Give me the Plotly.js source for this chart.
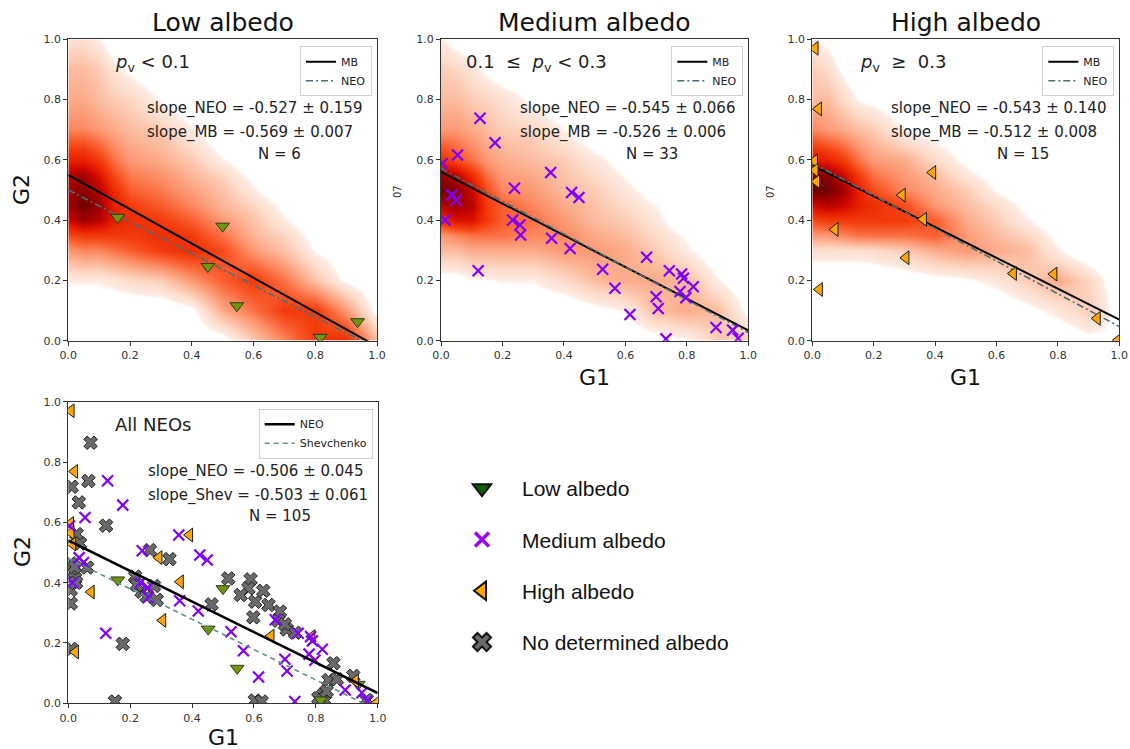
<!DOCTYPE html>
<html>
<head>
<meta charset="utf-8">
<script src="https://cdn.plot.ly/plotly-3.0.1.min.js"></script>
<style>
  html, body { margin: 0; padding: 0; background: #fff; }
  #chart { width: 1130px; height: 749px; }
</style>
</head>
<body>
<div id="chart"></div>
<script>
// ---------- phase-function parameters of NEOs, grouped by albedo ----------
const LOW_G1 = [0.16, 0.50, 0.452, 0.546, 0.816, 0.937];
const LOW_G2 = [0.409, 0.38, 0.246, 0.116, 0.011, 0.063];

const MED_G1 = [0.127, 0.176, 0.054, 0.004, 0.035, 0.049, 0.013, 0.121, 0.239, 0.233, 0.257,
                0.259, 0.357, 0.360, 0.425, 0.449, 0.420, 0.526, 0.566, 0.615, 0.669, 0.700,
                0.707, 0.732, 0.743, 0.783, 0.789, 0.778, 0.797, 0.821, 0.895, 0.949, 0.967];
const MED_G2 = [0.738, 0.657, 0.616, 0.588, 0.483, 0.467, 0.400, 0.232, 0.506, 0.400, 0.384,
                0.351, 0.558, 0.340, 0.492, 0.475, 0.306, 0.237, 0.174, 0.087, 0.277, 0.146,
                0.107, 0.006, 0.232, 0.221, 0.207, 0.163, 0.143, 0.179, 0.044, 0.035, 0.008];

const HIGH_G1 = [0.009, 0.020, 0.007, 0.009, 0.014, 0.074, 0.023, 0.293, 0.392, 0.362, 0.305,
                 0.655, 0.787, 0.928, 0.997];
const HIGH_G2 = [0.970, 0.769, 0.596, 0.566, 0.528, 0.369, 0.170, 0.483, 0.558, 0.403, 0.275,
                 0.223, 0.221, 0.074, 0.002];

const NONE_G1 = [0.072, 0.065, 0.011, 0.034, 0.122, 0.027, 0.008, 0.016, 0.022, 0.008, 0.008,
                 0.061, 0.176, 0.151, 0.264, 0.327, 0.216, 0.237, 0.253, 0.277, 0.463, 0.517,
                 0.589, 0.582, 0.557, 0.604, 0.630, 0.647, 0.598, 0.684, 0.706, 0.733, 0.679,
                 0.857, 0.841, 0.824, 0.830, 0.808, 0.921, 0.603, 0.625, 0.964, 0.038, 0.286,
                 0.221, 0.020, 0.868, 0.700, 0.010, 0.025, 0.835];
const NONE_G2 = [0.864, 0.737, 0.718, 0.666, 0.589, 0.561, 0.464, 0.436, 0.414, 0.376, 0.331,
                 0.450, 0.197, 0.006, 0.508, 0.478, 0.420, 0.370, 0.354, 0.389, 0.328, 0.414,
                 0.411, 0.381, 0.359, 0.337, 0.373, 0.326, 0.285, 0.304, 0.245, 0.234, 0.274,
                 0.133, 0.077, 0.028, 0.009, 0.017, 0.091, 0.009, 0.006, 0.011, 0.530, 0.343,
                 0.392, 0.452, 0.080, 0.262, 0.180, 0.400, 0.040];

// ---------- linear fits G2 = a + b*G1 ----------
const PANEL_NAMES   = ['Low albedo', 'Medium albedo', 'High albedo'];
const MB_INTERCEPT  = [0.550, 0.560, 0.582];
const MB_SLOPE      = [-0.569, -0.526, -0.512];
const MB_SLOPE_ERR  = [0.007, 0.006, 0.008];
const NEO_INTERCEPT = [0.500, 0.572, 0.590];
const NEO_SLOPE     = [-0.527, -0.545, -0.543];
const NEO_SLOPE_ERR = [0.159, 0.066, 0.140];
const NEO_COUNT     = [6, 33, 15];
const ALBEDO_RANGE  = ['<i>p</i><sub>v</sub> < 0.1',
                       '0.1  \u2264  <i>p</i><sub>v</sub> < 0.3',
                       '<i>p</i><sub>v</sub>  \u2265  0.3'];

const ALL_INTERCEPT  = 0.540;
const ALL_SLOPE      = -0.506;
const ALL_SLOPE_ERR  = 0.045;
const SHEV_INTERCEPT = 0.480;
const SHEV_SLOPE     = -0.503;
const SHEV_SLOPE_ERR = 0.061;
const ALL_COUNT      = 105;

// ---------- main-belt density, relative to the lowest shaded level (negative = unshaded) ----------
const DENS_G1 = [0, 0.05, 0.1, 0.15, 0.2, 0.3, 0.4, 0.5, 0.6, 0.7, 0.8, 0.9, 1.0];
const DENS_G2 = [0, 0.1, 0.2, 0.3, 0.35, 0.4, 0.45, 0.5, 0.55, 0.6, 0.7, 0.8, 0.9, 1.0];

const DENS_LOW = [
  [-1,  -1,  -1,  -1,  -1,  -1,  -1,  -0.5, 1.5, 3.5, 5.5, 6,   2  ],
  [-1,  -1,  -1,  -1,  -1,  -1,  -0.3, 2.5, 4,   5.5, 5.5, 3,  -0.5],
  [0.3, 0.3, 0.3, 0.6, 1,   1.5, 3,   4.5, 5.5, 4,   1.8, -0.2, -1 ],
  [3,   3.5, 3.5, 4,   4.5, 5.5, 6,   5,   3,   1.8, 0,   -1,  -1 ],
  [5,   5.5, 5.5, 5.5, 5.5, 6,   5.5, 4,   2.2, 1.2, -0.5, -1, -1 ],
  [7.5, 8.5, 8,   6.5, 6,   5.5, 4.5, 3,   1.8, 0.3, -1,  -1,  -1 ],
  [8.5, 9.5, 8.5, 6.5, 5.5, 4.5, 3.5, 2.2, 1.2, -0.3, -1, -1,  -1 ],
  [8.5, 9,   8,   6,   4.5, 3.8, 2.8, 1.8, 0.3, -1,  -1,  -1,  -1 ],
  [8,   8.5, 7,   5,   3.8, 3.2, 2.2, 1.2, -0.3, -1, -1,  -1,  -1 ],
  [6.5, 6.5, 5.5, 4,   3,   2.5, 1.6, 0.2, -1,  -1,  -1,  -1,  -1 ],
  [3.5, 3.5, 3,   2.5, 2,   1.5, 0.2, -1,  -1,  -1,  -1,  -1,  -1 ],
  [2.5, 2.5, 2,   1.5, 1.2, -0.1, -1, -1,  -1,  -1,  -1,  -1,  -1 ],
  [2,   2,   1.5, 0.5, -0.2, -1, -1,  -1,  -1,  -1,  -1,  -1,  -1 ],
  [0.8, 0.8, 0.2, -1,  -1,  -1,  -1,  -1,  -1,  -1,  -1,  -1,  -1 ]
];

const DENS_MED = [
  [-1,  -1,  -1,  -1,  -1,  -1,  -1,  -1,  -1,  -0.5, 0,   1.5, 1.5],
  [-1,  -1,  -1,  -1,  -1,  -1,  -1,  -0.3, 0.2, 2,   2.5, 2,  -0.3],
  [-0.5, -0.5, 0, 0,   0.2, 0.2, 1,   2,   2.5, 2.5, 2,   0.2, -1 ],
  [2,   2,   2.5, 2.5, 2.5, 2.5, 3,   3,   2.5, 1.5, 0.3, -1,  -1 ],
  [3,   3.5, 4,   4,   4,   3.5, 3.5, 2.5, 2,   1,   -0.1, -1, -1 ],
  [6,   7,   7,   5.5, 4.5, 4,   3,   2,   1.5, 0.5, -1,  -1,  -1 ],
  [8,   8.5, 8,   5.5, 4.5, 3.5, 2.5, 1.8, 1,   0.1, -1,  -1,  -1 ],
  [9.5, 9,   7.5, 5,   3.5, 3,   2,   1.5, 0.5, -0.5, -1, -1,  -1 ],
  [8.5, 8,   6,   4,   3,   2.5, 1.8, 1,   0,   -1,  -1,  -1,  -1 ],
  [6,   5,   4,   3,   2.5, 2,   1.5, 0.5, -0.5, -1, -1,  -1,  -1 ],
  [3,   3,   2.5, 2,   1.5, 1.2, 0.1, -1,  -1,  -1,  -1,  -1,  -1 ],
  [2,   2,   1.5, 1.2, 0.8, -0.2, -1, -1,  -1,  -1,  -1,  -1,  -1 ],
  [1.5, 1.2, 0.6, -0.2, -0.8, -1, -1, -1,  -1,  -1,  -1,  -1,  -1 ],
  [0.3, -0.5, -1, -1,  -1,  -1,  -1,  -1,  -1,  -1,  -1,  -1,  -1 ]
];

const DENS_HIGH = [
  [-1,  -1,  -1,  -1,  -1,  -1,  -1,  -1,  -1,  -1,  -1,  -0.3, 0  ],
  [-1,  -1,  -1,  -1,  -1,  -1,  -1,  -1,  -1,  -0.3, 0.5, 1.5, -0.5],
  [-1,  -1,  -1,  -1,  -1,  -0.7, -0.4, -0.1, 0.5, 1.5, 2.5, 1.2, -1 ],
  [0.8, 0.8, 0.8, 0.8, 1,   1.5, 2.5, 3,   2.5, 2,   0.2, -1,  -1 ],
  [3,   3,   3.5, 4,   4,   4,   4.5, 3,   2,   1.2, -0.3, -1, -1 ],
  [5,   5.5, 5.5, 5.5, 5.5, 5.5, 4.5, 2.5, 1.5, 0.2, -1,  -1,  -1 ],
  [7.5, 8,   7.5, 6.5, 6,   5,   3,   2,   1,   -0.3, -1, -1,  -1 ],
  [9.5, 9.5, 8.5, 6.5, 5,   3.5, 2.5, 1.5, 0,   -1,  -1,  -1,  -1 ],
  [9,   9,   7.5, 5.5, 4,   3,   2,   0.5, -0.5, -1, -1,  -1,  -1 ],
  [7,   6.5, 5.5, 4,   3,   2.5, 1,   -0.2, -1, -1,  -1,  -1,  -1 ],
  [3.5, 3,   2.5, 2,   1.5, 0,   -0.5, -1, -1,  -1,  -1,  -1,  -1 ],
  [2,   2,   1,   0,   -0.3, -1, -1,  -1,  -1,  -1,  -1,  -1,  -1 ],
  [1.5, 1,   -0.2, -1, -1,  -1,  -1,  -1,  -1,  -1,  -1,  -1,  -1 ],
  [0.3, -0.3, -1, -1,  -1,  -1,  -1,  -1,  -1,  -1,  -1,  -1,  -1 ]
];

// shading levels -> colours (everything at or below 0 stays white)
const DENS_MIN = -1, DENS_MAX = 10;
const DENS_LEVELS = [-1, 0, 0.25, 1, 2, 3.3, 4.3, 5.3, 6.5, 7.5, 8.7, 10];
const DENS_COLORS = ['#ffffff', '#ffffff', '#fdebe2', '#fddccc', '#fcbca0', '#fb8f68',
                     '#fa6538', '#f4400f', '#e82000', '#cc0800', '#980000', '#560000'];
const DENS_SCALE = DENS_LEVELS.map((v, k) => [(v - DENS_MIN) / (DENS_MAX - DENS_MIN), DENS_COLORS[k]]);

// ---------- styling ----------
const FONT = 'DejaVu Sans, Verdana, sans-serif';
const W = 1130, H = 749;
const px = v => v / W;           // horizontal pixel -> paper
const py = v => 1 - v / H;       // vertical pixel (from top) -> paper

const PANEL_X = [[68.3, 377.0], [441.0, 748.3], [812.3, 1119.3], [68.3, 377.7]];
const PANEL_Y = [[39.3, 340.7], [39.3, 340.7], [39.3, 340.7], [401.7, 703.3]];

const LOW_STYLE  = {symbol: 'triangle-down', size: 12, color: '#6f960e', line: {color: '#2e3b12', width: 1}};
const MED_STYLE  = {symbol: 'x-thin', size: 11, color: '#7f00ff', line: {color: '#7f00ff', width: 2.2}};
const HIGH_STYLE = {symbol: 'triangle-left', size: 12, color: '#ffa500', line: {color: '#1a1a1a', width: 1}};
const NONE_STYLE = {symbol: 'x', size: 12, color: '#6a6a6a', line: {color: '#222', width: 1}};

const NEO_LINE  = {color: '#4a6f73', width: 1.6, dash: '7px,3px,2px,3px'};
const MB_LINE   = {color: '#000', width: 2};
const SHEV_LINE = {color: '#5f8f8a', width: 1.6, dash: '5px,4px'};

const LINE_X = [0, 1];
const lineY = (a, b) => LINE_X.map(x => a + b * x);

const traces = [];
const annotations = [];
const layout = {
  width: W, height: H,
  margin: {l: 0, r: 0, t: 0, b: 0},
  paper_bgcolor: '#fff', plot_bgcolor: '#fff',
  font: {family: FONT, color: '#222'},
  showlegend: true,
  annotations: annotations
};

function axisStyle(domain, anchor) {
  return {
    domain: domain, anchor: anchor, range: [0, 1],
    tickvals: [0, 0.2, 0.4, 0.6, 0.8, 1.0], tickformat: '.1f',
    ticks: 'outside', ticklen: 4, tickwidth: 1, tickcolor: '#333',
    showline: true, mirror: true, linecolor: '#333', linewidth: 1,
    showgrid: false, zeroline: false, fixedrange: true,
    tickfont: {family: FONT, size: 11, color: '#333'}
  };
}

function panelLegend(i) {
  return {
    x: px(PANEL_X[i][1] - 5), xanchor: 'right',
    y: py(PANEL_Y[i][0] + 7), yanchor: 'top',
    bgcolor: 'rgba(255,255,255,0.85)', bordercolor: '#d0d0d0', borderwidth: 1,
    font: {family: FONT, size: 11, color: '#222'},
    itemwidth: 30, tracegroupgap: 0
  };
}

const STAT_FONT = {family: FONT, size: 15, color: '#222'};
function statText(xa, ya, lines, nText) {
  annotations.push({xref: xa, yref: ya, x: 0.25, y: 0.77, xanchor: 'left', yanchor: 'middle',
    text: lines[0], showarrow: false, font: STAT_FONT});
  annotations.push({xref: xa, yref: ya, x: 0.25, y: 0.69, xanchor: 'left', yanchor: 'middle',
    text: lines[1], showarrow: false, font: STAT_FONT});
  annotations.push({xref: xa, yref: ya, x: 0.685, y: 0.62, xanchor: 'center', yanchor: 'middle',
    text: nText, showarrow: false, font: STAT_FONT});
}

const DENSITIES = [DENS_LOW, DENS_MED, DENS_HIGH];
const POINTS = [
  [LOW_G1, LOW_G2, LOW_STYLE],
  [MED_G1, MED_G2, MED_STYLE],
  [HIGH_G1, HIGH_G2, HIGH_STYLE]
];
const fmt = v => (v < 0 ? '-' : '') + Math.abs(v).toFixed(3);

// ---------- three albedo panels ----------
for (let i = 0; i < 3; i++) {
  const n = i + 1;
  const xa = 'x' + (n === 1 ? '' : n), ya = 'y' + (n === 1 ? '' : n);
  const legendId = 'legend' + (n === 1 ? '' : n);
  layout['xaxis' + (n === 1 ? '' : n)] = axisStyle([px(PANEL_X[i][0]), px(PANEL_X[i][1])], ya);
  layout['yaxis' + (n === 1 ? '' : n)] = axisStyle([py(PANEL_Y[i][1]), py(PANEL_Y[i][0])], xa);
  layout[legendId] = panelLegend(i);

  traces.push({type: 'heatmap', x: DENS_G1, y: DENS_G2, z: DENSITIES[i], zsmooth: 'best',
    zmin: DENS_MIN, zmax: DENS_MAX, colorscale: DENS_SCALE, showscale: false, hoverinfo: 'skip',
    xaxis: xa, yaxis: ya, showlegend: false});
  traces.push({type: 'scatter', mode: 'lines', x: LINE_X, y: lineY(MB_INTERCEPT[i], MB_SLOPE[i]),
    line: MB_LINE, name: 'MB', xaxis: xa, yaxis: ya, legend: legendId, hoverinfo: 'skip'});
  traces.push({type: 'scatter', mode: 'lines', x: LINE_X, y: lineY(NEO_INTERCEPT[i], NEO_SLOPE[i]),
    line: NEO_LINE, name: 'NEO', xaxis: xa, yaxis: ya, legend: legendId, hoverinfo: 'skip'});
  traces.push({type: 'scatter', mode: 'markers', x: POINTS[i][0], y: POINTS[i][1],
    marker: POINTS[i][2], xaxis: xa, yaxis: ya, showlegend: false, cliponaxis: true});

  const cx = (PANEL_X[i][0] + PANEL_X[i][1]) / 2;
  annotations.push({xref: 'paper', yref: 'paper', x: px(cx), y: py(22), xanchor: 'center', yanchor: 'middle',
    text: PANEL_NAMES[i], showarrow: false, font: {family: FONT, size: 25, color: '#111'}});
  annotations.push({xref: xa, yref: ya, x: [0.145, 0.075, 0.15][i], y: 0.922, xanchor: 'left', yanchor: 'middle',
    text: ALBEDO_RANGE[i], showarrow: false, font: {family: FONT, size: 18, color: '#222'}});
  statText(xa, ya, [
    'slope_NEO = ' + fmt(NEO_SLOPE[i]) + ' \u00b1 ' + NEO_SLOPE_ERR[i].toFixed(3),
    'slope_MB = ' + fmt(MB_SLOPE[i]) + ' \u00b1 ' + MB_SLOPE_ERR[i].toFixed(3)
  ], 'N = ' + NEO_COUNT[i]);
}

// ---------- all NEOs panel ----------
layout.xaxis4 = axisStyle([px(PANEL_X[3][0]), px(PANEL_X[3][1])], 'y4');
layout.yaxis4 = axisStyle([py(PANEL_Y[3][1]), py(PANEL_Y[3][0])], 'x4');
layout.legend4 = panelLegend(3);

traces.push({type: 'scatter', mode: 'markers', x: NONE_G1, y: NONE_G2, marker: NONE_STYLE,
  xaxis: 'x4', yaxis: 'y4', showlegend: false});
traces.push({type: 'scatter', mode: 'markers', x: LOW_G1, y: LOW_G2, marker: LOW_STYLE,
  xaxis: 'x4', yaxis: 'y4', showlegend: false});
traces.push({type: 'scatter', mode: 'markers', x: HIGH_G1, y: HIGH_G2, marker: HIGH_STYLE,
  xaxis: 'x4', yaxis: 'y4', showlegend: false});
traces.push({type: 'scatter', mode: 'markers', x: MED_G1, y: MED_G2, marker: MED_STYLE,
  xaxis: 'x4', yaxis: 'y4', showlegend: false});
traces.push({type: 'scatter', mode: 'lines', x: LINE_X, y: lineY(ALL_INTERCEPT, ALL_SLOPE),
  line: {color: '#000', width: 2.5}, name: 'NEO', xaxis: 'x4', yaxis: 'y4', legend: 'legend4', hoverinfo: 'skip'});
traces.push({type: 'scatter', mode: 'lines', x: LINE_X, y: lineY(SHEV_INTERCEPT, SHEV_SLOPE),
  line: SHEV_LINE, name: 'Shevchenko', xaxis: 'x4', yaxis: 'y4', legend: 'legend4', hoverinfo: 'skip'});

annotations.push({xref: 'x4', yref: 'y4', x: 0.145, y: 0.926, xanchor: 'left', yanchor: 'middle',
  text: 'All NEOs', showarrow: false, font: {family: FONT, size: 18, color: '#222'}});
statText('x4', 'y4', [
  'slope_NEO = ' + fmt(ALL_SLOPE) + ' \u00b1 ' + ALL_SLOPE_ERR.toFixed(3),
  'slope_Shev = ' + fmt(SHEV_SLOPE) + ' \u00b1 ' + SHEV_SLOPE_ERR.toFixed(3)
], 'N = ' + ALL_COUNT);

// ---------- axis titles ----------
const BIG = {family: FONT, size: 22, color: '#111'};
annotations.push({xref: 'paper', yref: 'paper', x: px(22), y: py(190), text: 'G2', textangle: -90,
  showarrow: false, font: BIG, xanchor: 'center', yanchor: 'middle'});
annotations.push({xref: 'paper', yref: 'paper', x: px(22), y: py(552), text: 'G2', textangle: -90,
  showarrow: false, font: BIG, xanchor: 'center', yanchor: 'middle'});
annotations.push({xref: 'paper', yref: 'paper', x: px(594), y: py(378), text: 'G1',
  showarrow: false, font: BIG, xanchor: 'center', yanchor: 'middle'});
annotations.push({xref: 'paper', yref: 'paper', x: px(965), y: py(378), text: 'G1',
  showarrow: false, font: BIG, xanchor: 'center', yanchor: 'middle'});
annotations.push({xref: 'paper', yref: 'paper', x: px(223), y: py(737), text: 'G1',
  showarrow: false, font: BIG, xanchor: 'center', yanchor: 'middle'});
[398, 771].forEach(xp => annotations.push({xref: 'paper', yref: 'paper', x: px(xp), y: py(192),
  text: '07', textangle: -90, showarrow: false, font: {family: FONT, size: 10, color: '#333'},
  xanchor: 'center', yanchor: 'middle'}));

// ---------- marker key ----------
const KEY_NAMES = ['Low albedo', 'Medium albedo', 'High albedo', 'No determined albedo'];
const KEY_MARKERS = [
  {symbol: 'triangle-down', size: 16, color: '#0b5e0b', line: {color: '#111', width: 2}},
  {symbol: 'x-thin', size: 14, color: '#9900ff', line: {color: '#9900ff', width: 3.5}},
  {symbol: 'triangle-left', size: 16, color: '#ffa500', line: {color: '#111', width: 2}},
  {symbol: 'x', size: 16, color: '#6a6a6a', line: {color: '#111', width: 2}}
];
KEY_NAMES.forEach((name, k) => traces.push({type: 'scatter', mode: 'markers', x: [null], y: [null],
  name: name, marker: KEY_MARKERS[k], xaxis: 'x4', yaxis: 'y4', legend: 'legend5',
  legendgroup: 'key' + k}));
layout.legend5 = {
  x: px(442), xanchor: 'left', y: py(468), yanchor: 'top',
  bgcolor: 'rgba(0,0,0,0)', borderwidth: 0,
  font: {family: 'Liberation Sans, Arial, sans-serif', size: 21, color: '#111'},
  tracegroupgap: 21, itemsizing: 'trace', itemwidth: 70
};

Plotly.newPlot('chart', traces, layout, {staticPlot: true, displayModeBar: false});
</script>
</body>
</html>
